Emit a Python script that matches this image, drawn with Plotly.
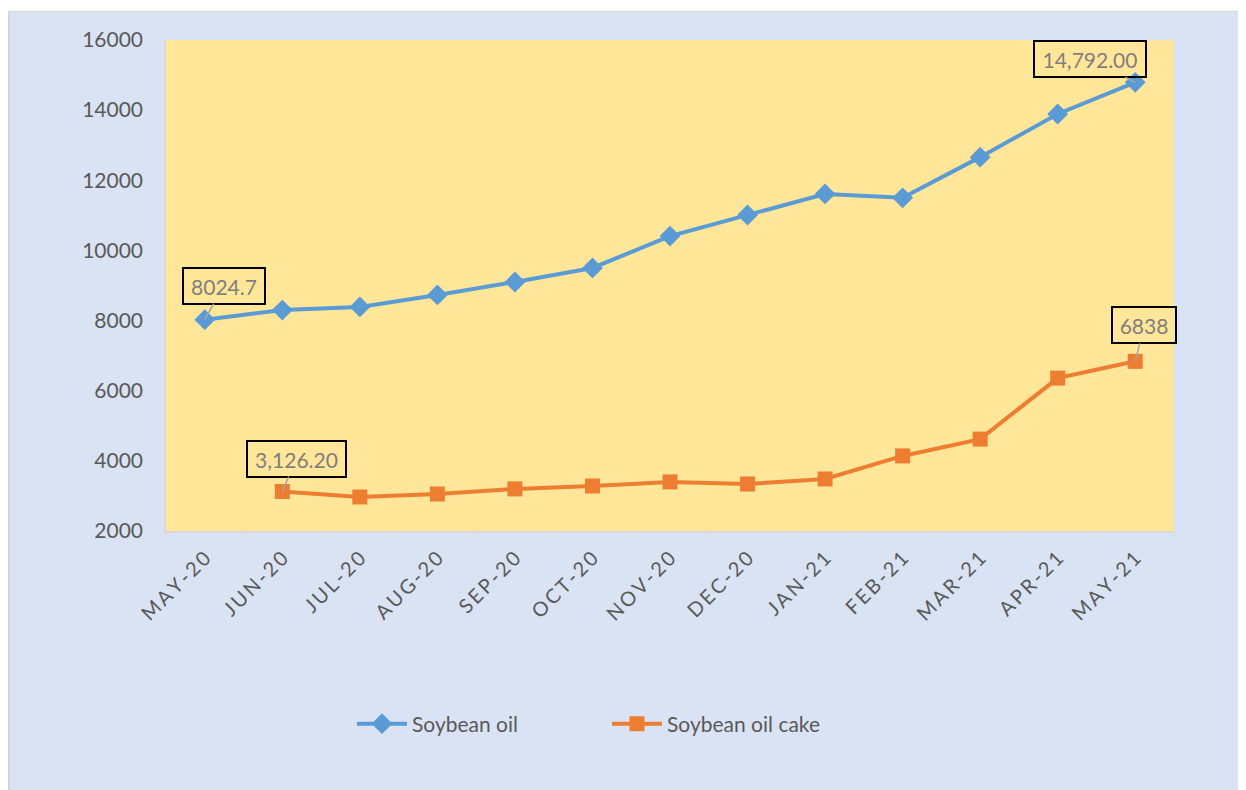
import plotly.graph_objects as go

months = ["MAY-20", "JUN-20", "JUL-20", "AUG-20", "SEP-20", "OCT-20", "NOV-20",
          "DEC-20", "JAN-21", "FEB-21", "MAR-21", "APR-21", "MAY-21"]
soy_oil = [8024.7, 8300, 8390, 8730, 9100, 9500, 10410, 11010, 11610, 11500, 12660, 13890, 14792.0]
soy_cake = [None, 3126.2, 2970, 3055, 3200, 3283, 3400, 3340, 3483, 4140, 4620, 6360, 6838]

# labels: (series values, index, text, ax, ay, box width)
labels = [
    (soy_oil, 0, "8024.7", 19, -34, 80),
    (soy_oil, 12, "14,792.00", -45, -23, 110),
    (soy_cake, 1, "3,126.20", 14, -33, 97),
    (soy_cake, 12, "6838", 9, -36, 62),
]

FONT = "Lato, 'Open Sans', sans-serif"
sp = "\u2009"
ticktext = [sp.join(list(m)) for m in months]

fig = go.Figure()
fig.add_trace(go.Scatter(
    x=months, y=soy_oil, name="Soybean oil", mode="lines+markers",
    line=dict(color="#5B9BD5", width=4),
    marker=dict(symbol="diamond", size=16, color="#5B9BD5"),
))
fig.add_trace(go.Scatter(
    x=months, y=soy_cake, name="Soybean oil cake", mode="lines+markers",
    line=dict(color="#ED7D31", width=4),
    marker=dict(symbol="square", size=15, color="#ED7D31"),
))

for vals, i, txt, ax, ay, w in labels:
    fig.add_annotation(
        x=months[i], y=vals[i], text=txt, showarrow=True, arrowhead=0,
        arrowcolor="#A6A6A6", arrowwidth=1.5, ax=ax, ay=ay, standoff=0,
        bordercolor="#000000", borderwidth=2, borderpad=0, width=w, height=34,
        font=dict(family=FONT, size=21, color="#7F7F7F"),
    )

# page is offset by 8px body margin
W, H = 1238, 782
L, R, T, B = 158, 72, 32, 259
pw, ph = W - L - R, H - T - B

def px(x):
    return (x - L) / pw

def py(y):
    return (H - B - y) / ph

fig.add_shape(type="rect", xref="paper", yref="paper", x0=px(-5), x1=px(W + 5), y0=py(3), y1=py(-5),
              fillcolor="white", line=dict(width=0), layer="below")
fig.add_shape(type="line", xref="paper", yref="paper", x0=px(0.75), x1=px(0.75), y0=py(3), y1=py(H + 5),
              line=dict(color="#D0D0D0", width=1.5))
fig.add_shape(type="line", xref="paper", yref="paper", x0=px(0), x1=px(W + 5), y0=py(3.5), y1=py(3.5),
              line=dict(color="#D9D9D9", width=1.5))

fig.update_layout(
    width=W, height=H,
    margin=dict(l=L, r=R, t=T, b=B),
    paper_bgcolor="#DAE3F3", plot_bgcolor="#FFE699",
    font=dict(family=FONT, size=21, color="#595959"),
    showlegend=True,
    legend=dict(orientation="h", x=px(344), xanchor="left", y=py(716), yanchor="middle",
                font=dict(family=FONT, size=21, color="#595959"),
                bgcolor="rgba(0,0,0,0)", entrywidth=190, itemwidth=50),
    xaxis=dict(
        type="category", tickmode="array", tickvals=months, ticktext=ticktext,
        tickangle=-45, tickson="boundaries", ticks="outside", ticklen=6,
        tickcolor="#D9D9D9", showline=True, linecolor="#D9D9D9", linewidth=1.5,
        showgrid=False, range=[-0.5, 12.5], ticklabelstandoff=6,
        tickfont=dict(family=FONT, size=20, color="#595959"),
    ),
    yaxis=dict(
        range=[2000, 16000], dtick=2000, tickformat="d", showgrid=False,
        showline=True, linecolor="#D9D9D9", linewidth=1.5, zeroline=False,
        ticks="", ticklabelstandoff=17,
        tickfont=dict(family=FONT, size=21, color="#595959"),
    ),
)

fig.write_html("out.html")
